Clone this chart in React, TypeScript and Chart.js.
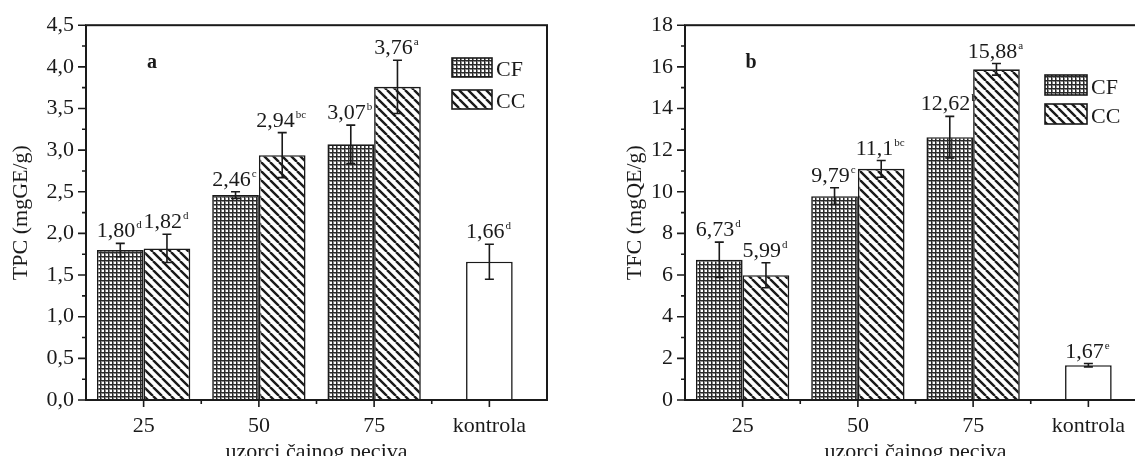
import React, { useEffect, useRef } from "react";
import { Chart, registerables } from "chart.js";

Chart.register(...registerables);

// ---------- DATA ----------
const categories = ["25", "50", "75", "kontrola"];
const seriesNames = ["CF", "CC", "kontrola"];

// Panel a: TPC
const tpcCF = [1.8, 2.46, 3.07, null];
const tpcCC = [1.82, 2.94, 3.76, null];
const tpcControl = [null, null, null, 1.66];
const tpcCFErr = [0.08, 0.04, 0.23, null];
const tpcCCErr = [0.17, 0.27, 0.32, null];
const tpcControlErr = [null, null, null, 0.21];
const tpcCFLabels = ["1,80", "2,46", "3,07", ""];
const tpcCCLabels = ["1,82", "2,94", "3,76", ""];
const tpcControlLabels = ["", "", "", "1,66"];
const tpcCFSup = ["d", "c", "b", ""];
const tpcCCSup = ["d", "bc", "a", ""];
const tpcControlSup = ["", "", "", "d"];

// Panel b: TFC
const tfcCF = [6.73, 9.79, 12.62, null];
const tfcCC = [5.99, 11.1, 15.88, null];
const tfcControl = [null, null, null, 1.67];
const tfcCFErr = [0.85, 0.4, 1.0, null];
const tfcCCErr = [0.6, 0.4, 0.28, null];
const tfcControlErr = [null, null, null, 0.08];
const tfcCFLabels = ["6,73", "9,79", "12,62", ""];
const tfcCCLabels = ["5,99", "11,1", "15,88", ""];
const tfcControlLabels = ["", "", "", "1,67"];
const tfcCFSup = ["d", "c", "b", ""];
const tfcCCSup = ["d", "bc", "a", ""];
const tfcControlSup = ["", "", "", "e"];

const xTitle = "uzorci čajnog peciva";

// ---------- STYLE ----------
const INK = "#1a1a1a";
const FAMILY = '"Liberation Serif", "Times New Roman", serif';
const FONT_SIZE = 22;
const SUP_SIZE = 11;

type Spec = {
  values: (number | null)[][];
  errs: (number | null)[][];
  labels: string[][];
  sups: string[][];
  yMax: number;
  yStep: number;
  decimals: number;
  yTitle: string;
  letter: string;
  padLeft: number;
  offset: number;
  legend: { x: number; y: number; gap: number; w: number; h: number };
};

const tpcSpec: Spec = {
  values: [tpcCF, tpcCC, tpcControl],
  errs: [tpcCFErr, tpcCCErr, tpcControlErr],
  labels: [tpcCFLabels, tpcCCLabels, tpcControlLabels],
  sups: [tpcCFSup, tpcCCSup, tpcControlSup],
  yMax: 4.5,
  yStep: 0.5,
  decimals: 1,
  yTitle: "TPC (mgGE/g)",
  letter: "a",
  padLeft: 8,
  offset: 0,
  legend: { x: 366, y: 58, gap: 32, w: 40, h: 19 },
};

const tfcSpec: Spec = {
  values: [tfcCF, tfcCC, tfcControl],
  errs: [tfcCFErr, tfcCCErr, tfcControlErr],
  labels: [tfcCFLabels, tfcCCLabels, tfcControlLabels],
  sups: [tfcCFSup, tfcCCSup, tfcControlSup],
  yMax: 18,
  yStep: 2,
  decimals: 0,
  yTitle: "TFC (mgQE/g)",
  letter: "b",
  padLeft: 23,
  offset: 599,
  legend: { x: 360, y: 75, gap: 29, w: 42, h: 20 },
};

function makeGridPattern(): CanvasPattern | string {
  const c = document.createElement("canvas");
  c.width = 4;
  c.height = 4;
  const g = c.getContext("2d");
  if (!g) return "#666";
  g.fillStyle = "#ffffff";
  g.fillRect(0, 0, 4, 4);
  g.fillStyle = "#2a2a2a";
  g.fillRect(0, 0, 4, 1);
  g.fillRect(0, 0, 1, 4);
  g.fillStyle = "#8a8a8a";
  g.fillRect(0, 1, 4, 1);
  g.fillRect(1, 0, 1, 4);
  g.fillStyle = "#2a2a2a";
  g.fillRect(0, 0, 1, 4);
  g.fillRect(0, 0, 4, 1);
  return g.createPattern(c, "repeat") || "#666";
}

function makeHatchPattern(): CanvasPattern | string {
  const s = 9;
  const c = document.createElement("canvas");
  c.width = s;
  c.height = s;
  const g = c.getContext("2d");
  if (!g) return "#999";
  g.fillStyle = "#ffffff";
  g.fillRect(0, 0, s, s);
  g.strokeStyle = "#1a1a1a";
  g.lineWidth = 2.4;
  g.beginPath();
  for (let k = -1; k <= 1; k++) {
    g.moveTo(k * s, 0);
    g.lineTo(k * s + s, s);
  }
  g.stroke();
  return g.createPattern(c, "repeat") || "#999";
}

function makeDecor(spec: Spec) {
  return {
    id: "decor",
    afterDatasetsDraw(chart: any) {
      const ctx: CanvasRenderingContext2D = chart.ctx;
      const { left, right, top, bottom } = chart.chartArea;
      const xs = chart.scales.x;
      const ys = chart.scales.y;
      ctx.save();
      ctx.strokeStyle = INK;
      ctx.fillStyle = INK;

      // error bars + value labels
      for (let d = 0; d < spec.values.length; d++) {
        const meta = chart.getDatasetMeta(d);
        for (let i = 0; i < categories.length; i++) {
          const v = spec.values[d][i];
          const e = spec.errs[d][i];
          if (v == null || e == null) continue;
          const el = meta.data[i];
          if (!el) continue;
          const bx = el.x;
          const yt = ys.getPixelForValue(v + e);
          const yb = ys.getPixelForValue(v - e);
          ctx.lineWidth = 1.6;
          ctx.beginPath();
          ctx.moveTo(bx, yt);
          ctx.lineTo(bx, yb);
          ctx.moveTo(bx - 4.5, yt);
          ctx.lineTo(bx + 4.5, yt);
          ctx.moveTo(bx - 4.5, yb);
          ctx.lineTo(bx + 4.5, yb);
          ctx.stroke();

          const main = spec.labels[d][i];
          const sup = spec.sups[d][i];
          ctx.font = `${FONT_SIZE}px ${FAMILY}`;
          const w1 = ctx.measureText(main).width;
          ctx.font = `${SUP_SIZE}px ${FAMILY}`;
          const w2 = ctx.measureText(sup).width;
          const sx = bx - (w1 + w2 + 1) / 2 - 1;
          const base = yt - 6;
          ctx.textAlign = "left";
          ctx.textBaseline = "alphabetic";
          ctx.font = `${FONT_SIZE}px ${FAMILY}`;
          ctx.fillText(main, sx, base);
          ctx.font = `${SUP_SIZE}px ${FAMILY}`;
          ctx.fillText(sup, sx + w1 + 1, base - 9);
        }
      }

      // frame
      ctx.lineWidth = 2;
      ctx.strokeRect(left, top, right - left, bottom - top);

      // y ticks (major from library ticks, minor halfway)
      ctx.lineWidth = 1.6;
      const yt: number[] = ys.ticks.map((t: any) => t.value);
      ctx.beginPath();
      for (let k = 0; k < yt.length; k++) {
        const py = ys.getPixelForValue(yt[k]);
        ctx.moveTo(left - 8, py);
        ctx.lineTo(left, py);
        if (k < yt.length - 1) {
          const pm = ys.getPixelForValue((yt[k] + yt[k + 1]) / 2);
          ctx.moveTo(left - 4, pm);
          ctx.lineTo(left, pm);
        }
      }
      // x ticks
      const px: number[] = categories.map((_, i) => xs.getPixelForValue(i));
      for (let k = 0; k < px.length; k++) {
        ctx.moveTo(px[k], bottom);
        ctx.lineTo(px[k], bottom + 7);
        if (k < px.length - 1) {
          const pm = (px[k] + px[k + 1]) / 2;
          ctx.moveTo(pm, bottom);
          ctx.lineTo(pm, bottom + 4);
        }
      }
      ctx.stroke();

      // panel letter
      ctx.font = `bold 20px ${FAMILY}`;
      ctx.textAlign = "center";
      ctx.textBaseline = "alphabetic";
      ctx.fillText(spec.letter, left + 66, 68);

      // legend
      const lg = spec.legend;
      for (let d = 0; d < 2; d++) {
        const ds = chart.data.datasets[d];
        const bx = left + lg.x;
        const by = lg.y + d * lg.gap;
        ctx.fillStyle = ds.backgroundColor;
        ctx.fillRect(bx, by, lg.w, lg.h);
        ctx.lineWidth = 1.6;
        ctx.strokeStyle = INK;
        ctx.strokeRect(bx, by, lg.w, lg.h);
        ctx.fillStyle = INK;
        ctx.font = `${FONT_SIZE}px ${FAMILY}`;
        ctx.textAlign = "left";
        ctx.fillText(ds.label, bx + lg.w + 4, by + lg.h - 1.5);
      }
      ctx.restore();
    },
  };
}

const CANVAS_W = 580;
const CANVAS_H = 470;

function Panel({ spec }: { spec: Spec }) {
  const ref = useRef<HTMLCanvasElement | null>(null);
  useEffect(() => {
    if (!ref.current) return;
    const grid = makeGridPattern();
    const hatch = makeHatchPattern();
    const font = { family: FAMILY, size: FONT_SIZE };
    const chart = new Chart(ref.current, {
      type: "bar",
      data: {
        labels: categories,
        datasets: [
          {
            label: seriesNames[0],
            data: spec.values[0] as any,
            backgroundColor: grid as any,
            borderColor: INK,
            borderWidth: 1.6,
            categoryPercentage: 0.81,
            barPercentage: 1,
            skipNull: true,
          } as any,
          {
            label: seriesNames[1],
            data: spec.values[1] as any,
            backgroundColor: hatch as any,
            borderColor: INK,
            borderWidth: 1.6,
            categoryPercentage: 0.81,
            barPercentage: 1,
            skipNull: true,
          } as any,
          {
            label: seriesNames[2],
            data: spec.values[2] as any,
            backgroundColor: "#ffffff",
            borderColor: INK,
            borderWidth: 1.6,
            categoryPercentage: 0.81,
            barPercentage: 0.5,
            skipNull: true,
          } as any,
        ],
      },
      options: {
        animation: false,
        responsive: false,
        maintainAspectRatio: false,
        events: [],
        layout: { padding: { left: spec.padLeft, top: 25, right: 33, bottom: 0 } },
        plugins: {
          legend: { display: false },
          tooltip: { enabled: false },
        },
        scales: {
          x: {
            offset: true,
            grid: { display: false, drawTicks: false },
            border: { display: false },
            ticks: { font, color: INK, padding: 13, maxRotation: 0, autoSkip: false },
            title: {
              display: true,
              text: xTitle,
              font,
              color: INK,
              padding: { top: 0, bottom: 5 },
            },
            afterFit: (s: any) => {
              s.height = 70;
            },
          },
          y: {
            min: 0,
            max: spec.yMax,
            grid: { display: false, drawTicks: false },
            border: { display: false },
            ticks: {
              stepSize: spec.yStep,
              font,
              color: INK,
              padding: 12,
              callback: (v: any) => Number(v).toFixed(spec.decimals).replace(".", ","),
            },
            title: {
              display: true,
              text: spec.yTitle,
              font,
              color: INK,
              padding: 0,
            },
            afterFit: (s: any) => {
              s.width = 86 - spec.padLeft;
            },
          },
        },
      } as any,
      plugins: [makeDecor(spec) as any],
    });
    return () => chart.destroy();
  }, [spec]);
  return (
    <canvas
      ref={ref}
      width={CANVAS_W}
      height={CANVAS_H}
      style={{
        position: "absolute",
        left: spec.offset,
        top: 0,
        width: CANVAS_W,
        height: CANVAS_H,
      }}
    />
  );
}

export default function App() {
  return (
    <div
      style={{
        position: "fixed",
        left: 0,
        top: 0,
        width: 1135,
        height: 456,
        overflow: "hidden",
        background: "#ffffff",
      }}
    >
      <Panel spec={tpcSpec} />
      <Panel spec={tfcSpec} />
    </div>
  );
}
